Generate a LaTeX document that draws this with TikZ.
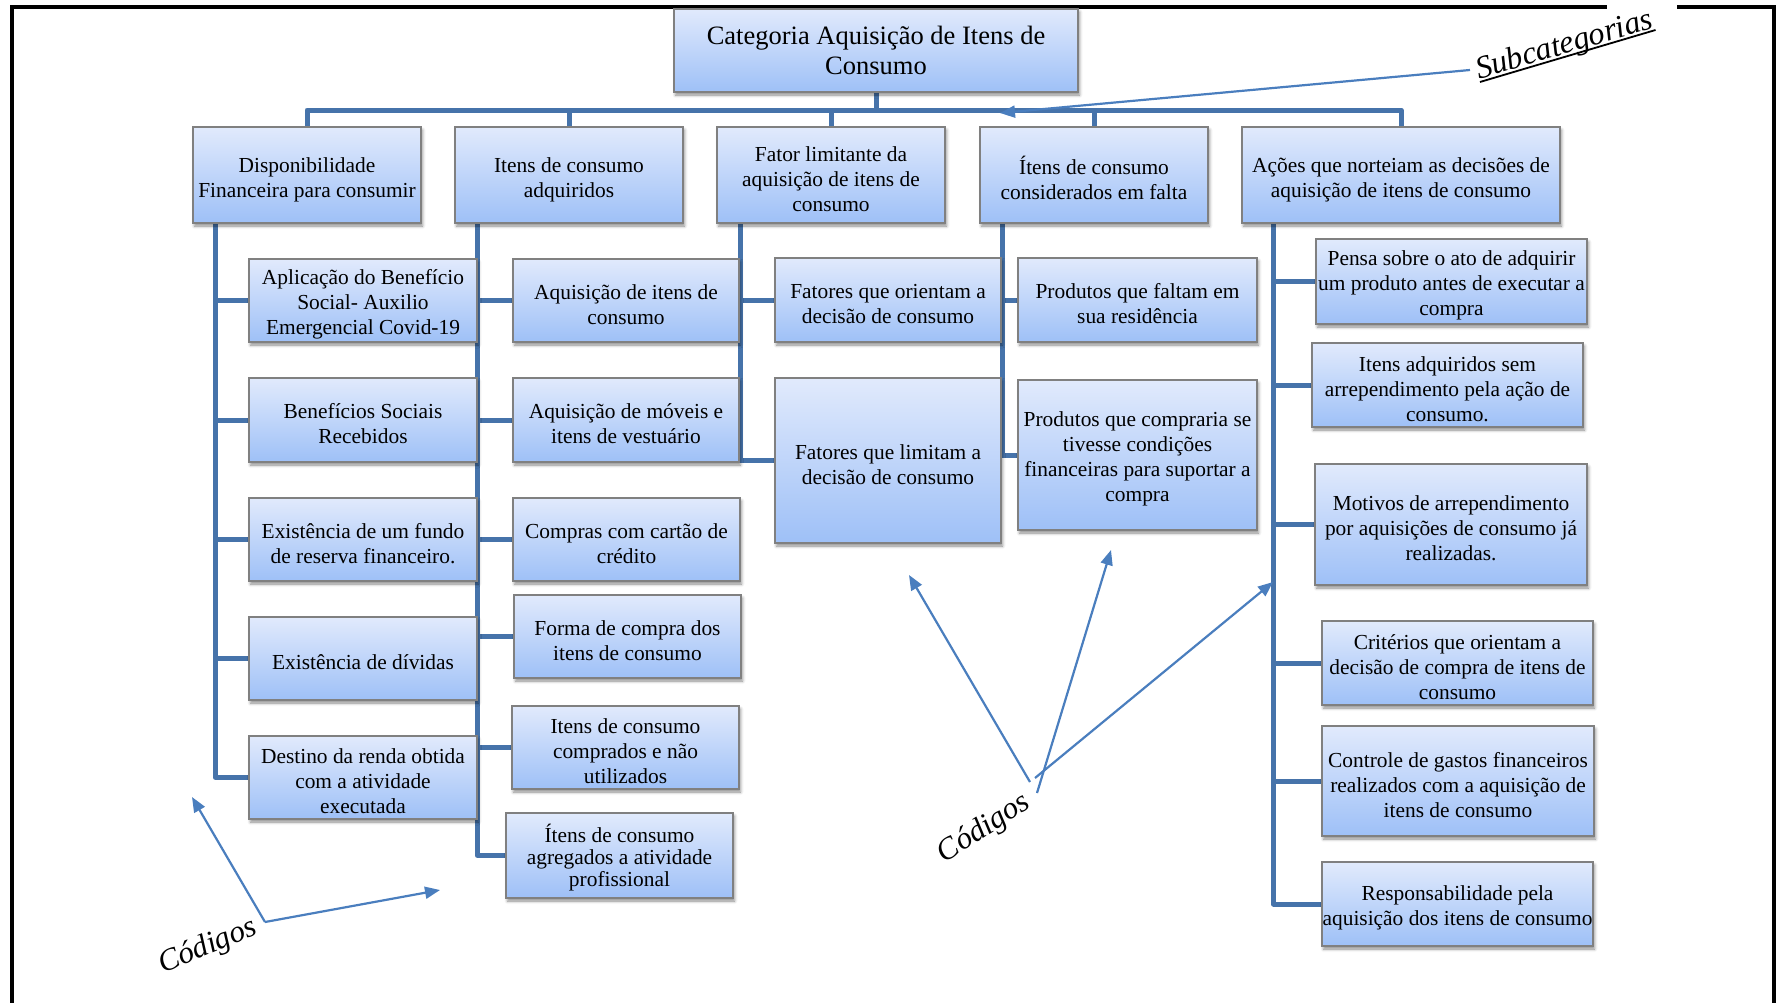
\documentclass[tikz,border=0pt]{standalone}
\usepackage{fontspec}
\setmainfont{Liberation Serif}
\usetikzlibrary{arrows.meta,shadows.blur,backgrounds}

\definecolor{boxtop}{RGB}{225,234,252}
\definecolor{boxbot}{RGB}{158,192,247}
\definecolor{boxedge}{RGB}{128,128,128}
\definecolor{linkblue}{RGB}{70,115,170}
\definecolor{arrowblue}{RGB}{74,126,190}

\tikzset{
  box/.style={draw=boxedge, line width=1.3pt, top color=boxtop, bottom color=boxbot,
    align=center, inner xsep=0pt, inner ysep=1pt,
    font=\fontsize{21.4}{25}\selectfont,
    blur shadow={shadow xshift=1.5pt, shadow yshift=-3pt, shadow blur radius=3pt, shadow opacity=45}},
  conn/.style={draw=linkblue, line width=5pt, line join=round},
  pointer/.style={draw=arrowblue, line width=2.2pt, -{Triangle[length=15pt,width=12pt]}},
  tag/.style={font=\fontsize{31}{36}\selectfont\itshape, anchor=base, inner sep=0pt},
  frame/.style={line width=4pt, line join=miter}
}

% first-line strut: evens out the vertical placement of the box texts
\newcommand\firstline[1]{\rule{0pt}{#1}}
% underline with a heavier rule
\newcommand\thickul[1]{\setbox0\hbox{#1}\rlap{\rule[-3.5pt]{\wd0}{1.8pt}}\box0}

% name, centre x, centre y, width, height, text
\newcommand\placebox[6]{\node[box, minimum width=#4pt, minimum height=#5pt] (#1) at (#2,#3) {\firstline{22.5pt}#6};}

\begin{document}
\begin{tikzpicture}[x=1pt,y=-1pt]
\useasboundingbox (0,0) rectangle (1778,1002);

% outer frame, open at the bottom
\draw[frame] (12,1006) -- (12,7) -- (1607,7);
\draw[frame] (1677,7) -- (1774,7) -- (1774,1006);

% category
\node[box, font=\fontsize{26.5}{30}\selectfont, minimum width=404pt, minimum height=83pt] (T) at (876,50.5)
  {Categoria Aquisição de Itens de\\Consumo};

% subcategories
\tikzset{subbox/.style={box, minimum width=#1, minimum height=96pt}}
\node[subbox=228pt] (S1) at (307,175)  {\firstline{24pt}Disponibilidade\\Financeira para consumir};
\node[subbox=228pt] (S2) at (569,175)  {\firstline{24pt}Itens de consumo\\adquiridos};
\node[subbox=228pt] (S3) at (831,175)  {\firstline{24pt}Fator limitante da\\aquisição de itens de\\consumo};
\node[subbox=228pt] (S4) at (1094,175) {\firstline{24pt}Ítens de consumo\\considerados em falta};
\node[subbox=318pt] (S5) at (1401,175) {\firstline{24pt}Ações que norteiam as decisões de\\aquisição de itens de consumo};

% codes: column 1
\placebox{A1}{363}{300.5}{228}{83}{Aplicação do Benefício\\Social- Auxilio\\Emergencial Covid-19}
\placebox{A2}{363}{420}{228}{84}{Benefícios Sociais\\Recebidos}
\placebox{A3}{363}{539.5}{228}{83}{Existência de um fundo\\de reserva financeiro.}
\placebox{A4}{363}{658.5}{228}{83}{Existência de dívidas}
\placebox{A5}{363}{777.5}{228}{83}{Destino da renda obtida\\com a atividade\\executada}

% codes: column 2
\placebox{B1}{626}{300.5}{226}{83}{Aquisição de itens de\\consumo}
\placebox{B2}{626}{420}{226}{84}{Aquisição de móveis e\\itens de vestuário}
\placebox{B3}{626.5}{539.5}{227}{83}{Compras com cartão de\\crédito}
\placebox{B4}{627.5}{636.5}{227}{83}{Forma de compra dos\\itens de consumo}
\placebox{B5}{625.5}{747.5}{227}{83}{Itens de consumo\\comprados e não\\utilizados}
\node[box, font=\fontsize{21.4}{21.8}\selectfont, minimum width=227pt, minimum height=85pt] (B6) at (619.5,855.5)
  {\firstline{22.5pt}Ítens de consumo\\agregados a atividade\\profissional};

% codes: column 3
\placebox{C1}{888}{300}{226}{84}{Fatores que orientam a\\decisão de consumo}
\placebox{C2}{888}{460.5}{226}{165}{Fatores que limitam a\\decisão de consumo}

% codes: column 4
\placebox{D1}{1137.5}{300}{239}{84}{Produtos que faltam em\\sua residência}
\placebox{D2}{1137.5}{455}{239}{150}{Produtos que compraria se\\tivesse condições\\financeiras para suportar a\\compra}

% codes: column 5
\placebox{E1}{1451.5}{281.5}{271}{85}{Pensa sobre o ato de adquirir\\um produto antes de executar a\\compra}
\placebox{E2}{1447.5}{385}{271}{84}{Itens adquiridos sem\\arrependimento pela ação de\\consumo.}
\placebox{E3}{1451}{524.5}{272}{121}{Motivos de arrependimento\\por aquisições de consumo já\\realizadas.}
\placebox{E4}{1457.5}{663}{271}{84}{Critérios que orientam a\\decisão de compra de itens de\\consumo}
\placebox{E5}{1458}{781}{272}{110}{Controle de gastos financeiros\\realizados com a aquisição de\\itens de consumo}
\placebox{E6}{1457.5}{904}{271}{84}{Responsabilidade pela\\aquisição dos itens de consumo}

% trunk origins below each subcategory
\coordinate (bus) at (876,110);
\coordinate (k1) at ([xshift=23pt]S1.south west);
\coordinate (k2) at ([xshift=23pt]S2.south west);
\coordinate (k3) at ([xshift=24pt]S3.south west);
\coordinate (k4) at ([xshift=23pt]S4.south west);
\coordinate (k5) at ([xshift=32pt]S5.south west);

\begin{scope}[on background layer]
  % bus from the category to the subcategories
  \draw[conn] (T.south) -- (T.south |- bus);
  \draw[conn] (S1.north) -- (S1.north |- bus) -- (S5.north |- bus) -- (S5.north);
  \foreach \s in {S2,S3,S4} \draw[conn] (\s.north |- bus) -- (\s.north);
  % trunks and branches
  \draw[conn] (k1) |- (A5.west);
  \foreach \n in {A1,A2,A3,A4} \draw[conn] (k1 |- \n.west) -- (\n.west);
  \draw[conn] (k2) |- (B6.west);
  \foreach \n in {B1,B2,B3,B4,B5} \draw[conn] (k2 |- \n.west) -- (\n.west);
  \draw[conn] (k3) |- (C2.west);
  \draw[conn] (k3 |- C1.west) -- (C1.west);
  \draw[conn] (k4) |- (D2.west);
  \draw[conn] (k4 |- D1.west) -- (D1.west);
  \draw[conn] (k5) |- (E6.west);
  \foreach \n in {E1,E2,E3,E4,E5} \draw[conn] (k5 |- \n.west) -- (\n.west);
\end{scope}

% annotation labels
\node[tag, font=\fontsize{32}{36}\selectfont\itshape, rotate=16.5] (sub) at (1567,53.5) {\thickul{Subcategorias}};
\node[tag, rotate=23] (cod1) at (211,953.5) {Códigos};
\node[tag, rotate=33] (cod2) at (988,835) {Códigos};

\coordinate (subtail) at (1470,70);
\coordinate (subhead) at (1000,113);
\draw[pointer] (subtail) -- (subhead);

\coordinate (c1tail) at (265,922);
\coordinate (c1headA) at (192,797);
\coordinate (c1headB) at (440,890);
\draw[pointer] (c1tail) -- (c1headA);
\draw[pointer] (c1tail) -- (c1headB);

\coordinate (c2tailA) at (1030,782);
\coordinate (c2tailB) at (1037,793);
\coordinate (c2tailC) at (1035,778);
\coordinate (c2headA) at (909,575);
\coordinate (c2headB) at (1111,550);
\coordinate (c2headC) at (1273,582);
\draw[pointer] (c2tailA) -- (c2headA);
\draw[pointer] (c2tailB) -- (c2headB);
\draw[pointer] (c2tailC) -- (c2headC);

\end{tikzpicture}
\end{document}
